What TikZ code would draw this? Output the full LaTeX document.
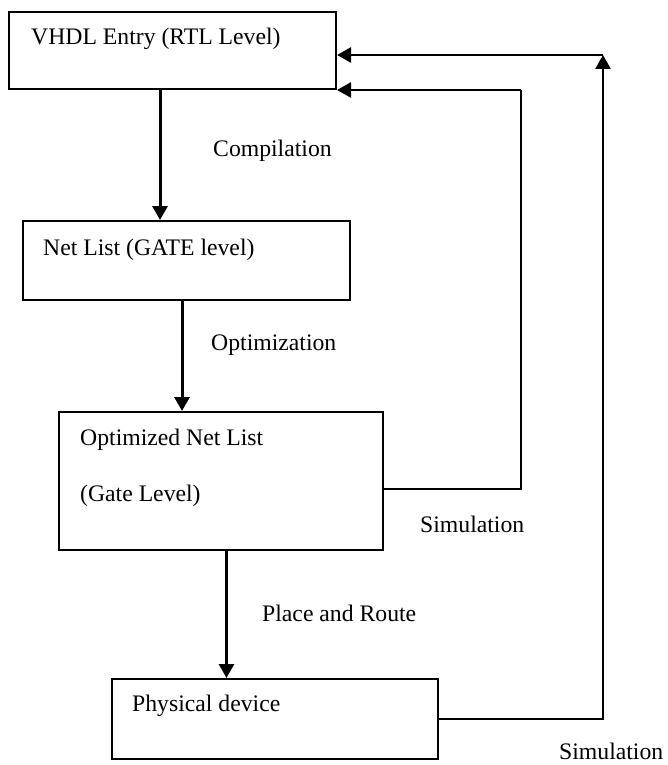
\documentclass[tikz,border=0pt]{standalone}
\usepackage{fontspec}
\setmainfont{Liberation Serif}
\usetikzlibrary{arrows.meta}
\begin{document}
\begin{tikzpicture}[x=1pt,y=-1pt,
        font=\fontsize{23.7}{28}\selectfont,
        blk/.style={draw=black,line width=2pt,rectangle,minimum width=#1},
        flow/.style={draw=black,line width=3pt,-{Triangle[length=14pt,width=15pt]}},
        back/.style={draw=black,line width=2.6pt},
        backarr/.style={back,-{Triangle[length=14pt,width=15pt]}}]
    \tikzstyle{every node}+=[inner sep=0pt]
    \useasboundingbox (0,0) rectangle (668,765);
    % boxes
    \node [blk=327pt, minimum height=77pt] (vhdl) at (172.5,50.5) {};
    \node [blk=327pt, minimum height=79pt] (net) at (186.5,260.5) {};
    \node [blk=324pt, minimum height=138pt] (opt) at (221,481) {};
    \node [blk=326pt, minimum height=80pt] (dev) at (275,719) {};
    % box texts
    \node [anchor=base west] (vhdltxt) at (31,45) {VHDL Entry (RTL Level)};
    \node [anchor=base west] (nettxt) at (43,255) {Net List (GATE level)};
    \node [anchor=base west] (opttxt) at (80,445) {Optimized Net List};
    \node [anchor=base west] (gatetxt) at (80,501) {(Gate Level)};
    \node [anchor=base west] (devtxt) at (132,711) {Physical device};
    % forward flow
    \draw [flow] ([xshift=-12.5pt]vhdl.south) -- ([xshift=-12.5pt]vhdl.south |- net.north);
    \node [anchor=base west] (comp) at (213,157) {Compilation};
    \draw [flow] ([xshift=-4.5pt]net.south) -- ([xshift=-4.5pt]net.south |- opt.north);
    \node [anchor=base west] (optm) at (211,350) {Optimization};
    \draw [flow] ([xshift=5.5pt]opt.south) -- ([xshift=5.5pt]opt.south |- dev.north);
    \node [anchor=base west] (pnr) at (262,621) {Place and Route};
    % simulation loops
    \coordinate (turn1) at (521,90);
    \draw [back] ([yshift=-8pt]opt.east) -| (turn1);
    \draw [backarr] (turn1) -- (turn1 -| vhdl.east);
    \node [anchor=base west] (sim1) at (420,532) {Simulation};
    \coordinate (turn2) at (603,55);
    \draw [backarr] (dev.east) -| (turn2);
    \draw [backarr] (turn2) -- (turn2 -| vhdl.east);
    \node [anchor=base west] (sim2) at (559,759) {Simulation};
\end{tikzpicture}
\end{document}
